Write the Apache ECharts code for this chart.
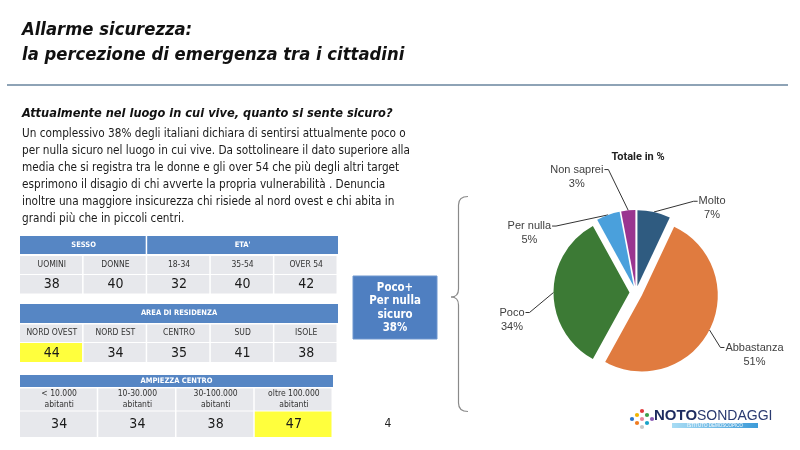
<!DOCTYPE html>
<html><head><meta charset="utf-8">
<script src="https://cdn.jsdelivr.net/npm/echarts@6/dist/echarts.min.js"></script>
<style>html,body{margin:0;padding:0;background:#fff}#c{width:800px;height:450px}</style>
</head><body><div id="c"></div>
<script>
const titleLines = ['Allarme sicurezza:', 'la percezione di emergenza tra i cittadini'];
const subtitle = 'Attualmente nel luogo in cui vive, quanto si sente sicuro?';
const paragraphLines = [
  'Un complessivo 38% degli italiani dichiara di sentirsi attualmente poco o',
  'per nulla sicuro nel luogo in cui vive. Da sottolineare il dato superiore alla',
  'media che si registra tra le donne e gli over 54 che più degli altri target',
  'esprimono il disagio di chi avverte la propria vulnerabilità . Denuncia',
  'inoltre una maggiore insicurezza chi risiede al nord ovest e chi abita in',
  'grandi più che in piccoli centri.'
];
const table1Groups = ['SESSO', "ETA'"];
const table1GroupSpans = [2, 3];
const table1Labels = ['UOMINI', 'DONNE', '18-34', '35-54', 'OVER 54'];
const table1Values = [38, 40, 32, 40, 42];
const table2Title = 'AREA DI RESIDENZA';
const table2Labels = ['NORD OVEST', 'NORD EST', 'CENTRO', 'SUD', 'ISOLE'];
const table2Values = [44, 34, 35, 41, 38];
const table2Highlight = [0];
const table3Title = 'AMPIEZZA CENTRO';
const table3Labels = ['< 10.000\nabitanti', '10-30.000\nabitanti', '30-100.000\nabitanti', 'oltre 100.000\nabitanti'];
const table3Values = [34, 34, 38, 47];
const table3Highlight = [3];
const boxText = 'Poco+\nPer nulla\nsicuro\n38%';
const pageNumber = '4';
const pieTitle = 'Totale in %';
const pieCategories = ['Molto', 'Abbastanza', 'Poco', 'Per nulla', 'Non saprei'];
const pieValues = [7, 51, 34, 5, 3];
const pieColors = ['#2f5b80', '#e07b3f', '#3c7a35', '#4aa0dc', '#9a3590'];
// label line styling / nudges (layout only)
const pieLineLength = [12, 10, 5, 3, 41];
const pieLineLength2 = [36, 5, 20, 52, 20];
const pieLabelDx = [1, -3, 1, 1, 4];
const pieLabelDy = [8, 20, 27, 21, 7];

const NARROW = '"DejaVu Sans Condensed", "DejaVu Sans", sans-serif';
const SANS = '"Liberation Sans", Arial, sans-serif';
const HEAD = '#5686c4';
const CELL = '#e7e8ec';
const YELLOW = '#ffff3d';

function txt(x, y, text, font, fill, align, extra) {
  return { type: 'text', x: x, y: y, silent: true,
    style: Object.assign({ text: text, font: font, fill: fill || '#222', align: align || 'center', verticalAlign: 'middle',
      textAlign: align || 'center', textVerticalAlign: 'middle' }, extra || {}) };
}
function rect(x, y, w, h, fill, stroke) {
  return { type: 'rect', silent: true, shape: { x: x, y: y, width: w, height: h },
    style: stroke ? { fill: fill, stroke: stroke, lineWidth: 1 } : { fill: fill } };
}

const g = [];
g.push(txt(22, 30, titleLines[0], 'italic bold 18.3px ' + NARROW, '#111', 'left'));
g.push(txt(22, 55, titleLines[1], 'italic bold 18.3px ' + NARROW, '#111', 'left'));
g.push({ type: 'line', silent: true, shape: { x1: 7, y1: 85, x2: 788, y2: 85 }, style: { stroke: '#8ea3b6', lineWidth: 2 } });
g.push(txt(22, 114, subtitle, 'italic bold 12.7px ' + NARROW, '#111', 'left'));
g.push(txt(22, 134 - 8.4, paragraphLines.join('\n'), '11.7px ' + NARROW, '#1a1a1a', 'left', { verticalAlign: 'top', textVerticalAlign: 'top', lineHeight: 16.9 }));

function table(x0, totalW, yHead, hHead, yLab, hLab, yVal, hVal, headers, spans, labels, values, highlight, labFont, labelLineH) {
  const n = labels.length;
  const cw = totalW / n;
  let c = 0;
  headers.forEach(function (h, i) {
    const w = cw * spans[i];
    g.push(rect(x0 + c * cw, yHead, w - (i < headers.length - 1 ? 1.5 : 0), hHead, HEAD));
    g.push(txt(x0 + c * cw + w / 2, yHead + hHead / 2, h, 'bold 7.5px ' + NARROW, '#fff'));
    c += spans[i];
  });
  labels.forEach(function (l, i) {
    const x = x0 + i * cw;
    g.push(rect(x, yLab, cw - 1.5, hLab, CELL));
    g.push(txt(x + cw / 2, yLab + hLab / 2, l, labFont, '#333', 'center', labelLineH ? { lineHeight: labelLineH } : {}));
    g.push(rect(x, yVal, cw - 1.5, hVal, highlight.indexOf(i) >= 0 ? YELLOW : CELL));
    g.push(txt(x + cw / 2, yVal + hVal / 2 + 0.5, String(values[i]), '14px ' + NARROW, '#1a1a1a'));
  });
}
table(20, 318, 236, 18, 256, 18, 275, 18.5, table1Groups, table1GroupSpans, table1Labels, table1Values, [], '8.5px ' + NARROW);
table(20, 318, 304, 19, 324.5, 17.5, 343, 19, [table2Title], [5], table2Labels, table2Values, table2Highlight, '8.5px ' + NARROW);
table(20, 313, 375, 12, 388.5, 22, 411.5, 25.5, [table3Title], [4], table3Labels, table3Values, table3Highlight, '8.5px ' + NARROW, 10.5);
g.push(txt(388, 424, pageNumber, '12px ' + NARROW, '#222'));

g.push(rect(353, 276, 84, 63, '#4f7fc1', '#6f97cf'));
g.push(txt(395, 308, boxText, 'bold 11.4px ' + NARROW, '#fff', 'center', { lineHeight: 13.3 }));

// brace
const braceStroke = { stroke: '#8a8a8a', lineWidth: 1.2, fill: null };
g.push({ type: 'bezierCurve', silent: true, shape: { x1: 468, y1: 196.5, cpx1: 458.5, cpy1: 196.5, x2: 458.5, y2: 205 }, style: braceStroke });
g.push({ type: 'line', silent: true, shape: { x1: 458.5, y1: 205, x2: 458.5, y2: 289 }, style: braceStroke });
g.push({ type: 'bezierCurve', silent: true, shape: { x1: 458.5, y1: 289, cpx1: 458.5, cpy1: 297, x2: 451, y2: 297 }, style: braceStroke });
g.push({ type: 'bezierCurve', silent: true, shape: { x1: 451, y1: 297, cpx1: 458.5, cpy1: 297, x2: 458.5, y2: 305 }, style: braceStroke });
g.push({ type: 'line', silent: true, shape: { x1: 458.5, y1: 305, x2: 458.5, y2: 403 }, style: braceStroke });
g.push({ type: 'bezierCurve', silent: true, shape: { x1: 458.5, y1: 403, cpx1: 458.5, cpy1: 411.5, x2: 468, y2: 411.5 }, style: braceStroke });

g.push(txt(638, 157, pieTitle, 'bold 11px Roboto, ' + SANS, '#222'));

// logo
const dotColors = ['#e23b3b', '#f2b400', '#3aa04a', '#2a73c8', '#e8889a', '#8b5bb5', '#f07c20', '#1aa3c9', '#c8c8c8'];
const dotPos = [[642, 411], [637, 415], [647, 415], [632, 419], [642, 419], [652, 419], [637, 423], [647, 423], [642, 427]];
dotPos.forEach(function (p, i) { g.push({ type: 'circle', silent: true, shape: { cx: p[0], cy: p[1], r: 2.1 }, style: { fill: dotColors[i] } }); });
g.push(txt(654, 416, 'NOTO', 'bold 15px ' + SANS, '#1d2b5f', 'left'));
g.push(txt(697, 416, 'SONDAGGI', '14px ' + SANS, '#2a3a70', 'left'));
g.push({ type: 'rect', silent: true, shape: { x: 672, y: 423, width: 86, height: 5 },
  style: { fill: new echarts.graphic.LinearGradient(0, 0, 1, 0, [{ offset: 0, color: '#a8dcf4' }, { offset: 1, color: '#3d9bd8' }]) } });
g.push(txt(715, 425.6, 'ISTITUTO DEMOSCOPICO', '4.5px ' + SANS, '#ffffff'));

const chart = echarts.init(document.getElementById('c'), null, { renderer: 'canvas' });
chart.setOption({
  animation: false,
  backgroundColor: '#ffffff',
  graphic: { elements: g },
  series: [{
    type: 'pie',
    center: [636, 292.5],
    radius: 76,
    startAngle: 90,
    clockwise: true,
    selectedMode: 'multiple',
    selectedOffset: 6.5,
    avoidLabelOverlap: false,
    emphasis: { disabled: true },
    label: {
      formatter: '{n|{b}}\n{v|{c}%}', color: '#404040', fontSize: 11, fontFamily: SANS, lineHeight: 14,
      rich: {
        n: { align: 'center', color: '#404040', fontSize: 11, fontFamily: SANS, lineHeight: 14 },
        v: { align: 'center', color: '#404040', fontSize: 11, fontFamily: SANS, lineHeight: 14 }
      }
    },
    labelLine: { lineStyle: { color: '#333', width: 1 } },
    labelLayout: function (p) {
      const i = p.dataIndex;
      const dx = pieLabelDx[i], dy = pieLabelDy[i];
      const r = p.labelRect;
      const right = p.align === 'left';
      const endX = right ? r.x + dx - 1 : r.x + r.width + dx + 1;
      const endY = r.y + dy + 7;
      const start = p.labelLinePoints ? p.labelLinePoints[0] : [endX, endY];
      return { dx: dx, dy: dy, labelLinePoints: [start, [right ? endX - 4 : endX + 4, endY], [endX, endY]] };
    },
    data: pieCategories.map(function (c, i) {
      return { name: c, value: pieValues[i], selected: true,
        itemStyle: { color: pieColors[i] },
        select: { itemStyle: { color: pieColors[i] } },
        labelLine: { length: pieLineLength[i], length2: pieLineLength2[i] } };
    })
  }]
});
</script></body></html>
